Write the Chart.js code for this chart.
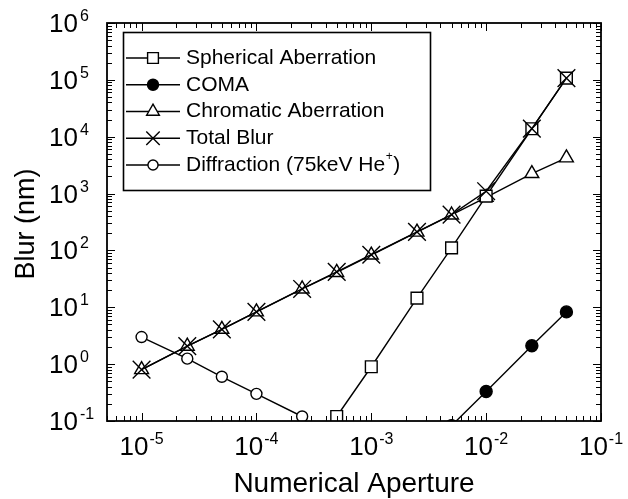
<!DOCTYPE html>
<html>
<head>
<meta charset="utf-8">
<script src="https://cdn.jsdelivr.net/npm/chart.js@4"></script>
<style>
html, body { margin: 0; padding: 0; background: #fff; }
canvas { display: block; }
</style>
</head>
<body>
<canvas id="myChart" width="628" height="499"></canvas>
<script>
// numerical aperture values (x) and blur in nm for each contribution
const apertures = [1e-5, 2.5e-5, 5e-5, 1e-4, 2.5e-4, 5e-4, 1e-3, 2.5e-3, 5e-3, 1e-2, 2.5e-2, 5e-2];
const spherical = [null, null, null, null, null, 0.12, 0.9, 14.5, 111, 900, 13800, 107000];
const coma = [null, null, null, null, null, null, null, null, 0.083, 0.33, 2.1, 8.3];
const chromatic = [0.8, 2.07, 4.1, 8.3, 21, 41, 83, 210, 420, 860, 2250, 4250];
const totalBlur = [0.8, 2.07, 4.1, 8.3, 21, 42, 84, 212, 425, 1100, 13900, 107000];
const diffraction = [3.0, 1.25, 0.6, 0.3, 0.12, null, null, null, null, null, null, null];

const xTickExps = ['-5', '-4', '-3', '-2', '-1'];
const yTickExps = ['-1', '0', '1', '2', '3', '4', '5', '6'];
const xTitle = 'Numerical Aperture';
const yTitle = 'Blur (nm)';

const FONT = '"Liberation Sans", Arial, Helvetica, sans-serif';

const toPoints = ys => apertures
    .map((x, i) => ({ x: x, y: ys[i] }))
    .filter(p => p.y !== null);

const series = [
    { label: 'Spherical Aberration', data: spherical, style: 'rect', r: 8.3, fill: '#fff', order: 1 },
    { label: 'COMA', data: coma, style: 'circle', r: 6, fill: '#000', order: 1 },
    { label: 'Chromatic Aberration', data: chromatic, style: 'triangle', r: 8, fill: '#fff', order: 1 },
    { label: 'Total Blur', data: totalBlur, style: 'crossRot', r: 12.5, legendR: 9.5, fill: 'rgba(0,0,0,0)', order: 0 },
    { label: 'Diffraction (75keV He', sup: '+', tail: ')', data: diffraction, style: 'circle', r: 5.5, fill: '#fff', order: 1 }
];

const datasets = series.map(s => ({
    label: s.label,
    data: toPoints(s.data),
    order: s.order,
    borderColor: '#000',
    borderWidth: 1.4,
    tension: 0,
    pointStyle: s.style,
    pointRadius: s.r,
    pointHoverRadius: s.r,
    pointBackgroundColor: s.fill,
    pointBorderColor: '#000',
    pointBorderWidth: 1.4
}));

function tickLine(ctx, x1, y1, x2, y2) {
    ctx.beginPath();
    ctx.moveTo(x1, y1);
    ctx.lineTo(x2, y2);
    ctx.stroke();
}

// axes frame, inward ticks, power-of-ten labels, titles and legend
const framePlugin = {
    id: 'frame',
    afterDraw(chart) {
        const ctx = chart.ctx;
        const a = chart.chartArea;
        const x = chart.scales.x;
        const y = chart.scales.y;
        ctx.save();
        ctx.strokeStyle = '#000';
        ctx.fillStyle = '#000';

        ctx.lineWidth = 1.8;
        ctx.strokeRect(a.left, a.top, a.right - a.left, a.bottom - a.top);

        ctx.lineWidth = 1;
        for (let d = -6; d <= -1; d++) {
            for (let k = 1; k <= 9; k++) {
                const v = k * Math.pow(10, d);
                if (v < x.min * 0.999 || v > x.max * 1.001) continue;
                const px = Math.round(x.getPixelForValue(v)) + 0.5;
                const len = k === 1 ? 8 : 5;
                tickLine(ctx, px, a.bottom, px, a.bottom - len);
                tickLine(ctx, px, a.top, px, a.top + len);
            }
        }
        for (let d = -1; d <= 6; d++) {
            for (let k = 1; k <= 9; k++) {
                const v = k * Math.pow(10, d);
                if (v < y.min * 0.999 || v > y.max * 1.001) continue;
                const py = Math.round(y.getPixelForValue(v)) + 0.5;
                const len = k === 1 ? 8 : 5;
                tickLine(ctx, a.left, py, a.left + len, py);
                tickLine(ctx, a.right, py, a.right - len, py);
            }
        }

        // x tick labels
        ctx.textBaseline = 'alphabetic';
        xTickExps.forEach(e => {
            const px = x.getPixelForValue(Math.pow(10, Number(e)));
            ctx.font = '26px ' + FONT;
            const w10 = ctx.measureText('10').width;
            ctx.font = '16px ' + FONT;
            const we = ctx.measureText(e).width;
            const start = px - (w10 + 1 + we) / 2;
            ctx.textAlign = 'left';
            ctx.font = '26px ' + FONT;
            ctx.fillText('10', start, 455);
            ctx.font = '16px ' + FONT;
            ctx.fillText(e, start + w10 + 1, 444);
        });

        // y tick labels
        yTickExps.forEach(e => {
            const py = y.getPixelForValue(Math.pow(10, Number(e)));
            ctx.font = '26px ' + FONT;
            ctx.textAlign = 'right';
            ctx.fillText('10', 78, py + 9);
            ctx.font = '16px ' + FONT;
            ctx.textAlign = 'left';
            ctx.fillText(e, 80, py - 2);
        });

        // axis titles
        ctx.font = '28px ' + FONT;
        ctx.textAlign = 'center';
        ctx.fillText(xTitle, (a.left + a.right) / 2, 492);
        ctx.font = '27px ' + FONT;
        ctx.save();
        ctx.translate(34, 224);
        ctx.rotate(-Math.PI / 2);
        ctx.fillText(yTitle, 0, 0);
        ctx.restore();

        // legend
        ctx.lineWidth = 1.6;
        ctx.strokeRect(123.5, 32.5, 307, 158);
        series.forEach((s, i) => {
            const ly = 58 + i * 26.75;
            ctx.strokeStyle = '#000';
            ctx.lineWidth = 1.5;
            tickLine(ctx, 126, ly, 180, ly);
            ctx.fillStyle = s.fill;
            ctx.lineWidth = 1.4;
            Chart.helpers.drawPoint(ctx, {
                pointStyle: s.style,
                radius: s.legendR || s.r * 0.92,
                borderWidth: 1.4,
                rotation: 0
            }, 153, ly);
            ctx.fillStyle = '#000';
            ctx.font = '21px ' + FONT;
            ctx.textAlign = 'left';
            ctx.textBaseline = 'middle';
            ctx.fillText(s.label, 186, ly);
            if (s.sup) {
                let tx = 186 + ctx.measureText(s.label).width;
                ctx.font = '12px ' + FONT;
                ctx.fillText(s.sup, tx + 0.5, ly - 8);
                tx += ctx.measureText(s.sup).width + 1;
                ctx.font = '21px ' + FONT;
                ctx.fillText(s.tail, tx, ly);
            }
        });
        ctx.restore();
    }
};

const ctx = document.getElementById('myChart').getContext('2d');
new Chart(ctx, {
    type: 'line',
    data: { datasets: datasets },
    options: {
        responsive: false,
        animation: false,
        devicePixelRatio: 1,
        events: [],
        layout: { padding: { left: 107, right: 27, top: 23, bottom: 78 } },
        scales: {
            x: { type: 'logarithmic', min: 5e-6, max: 0.1, display: false },
            y: { type: 'logarithmic', min: 0.1, max: 1e6, display: false }
        },
        plugins: {
            legend: { display: false },
            tooltip: { enabled: false }
        }
    },
    plugins: [framePlugin]
});
</script>
</body>
</html>
